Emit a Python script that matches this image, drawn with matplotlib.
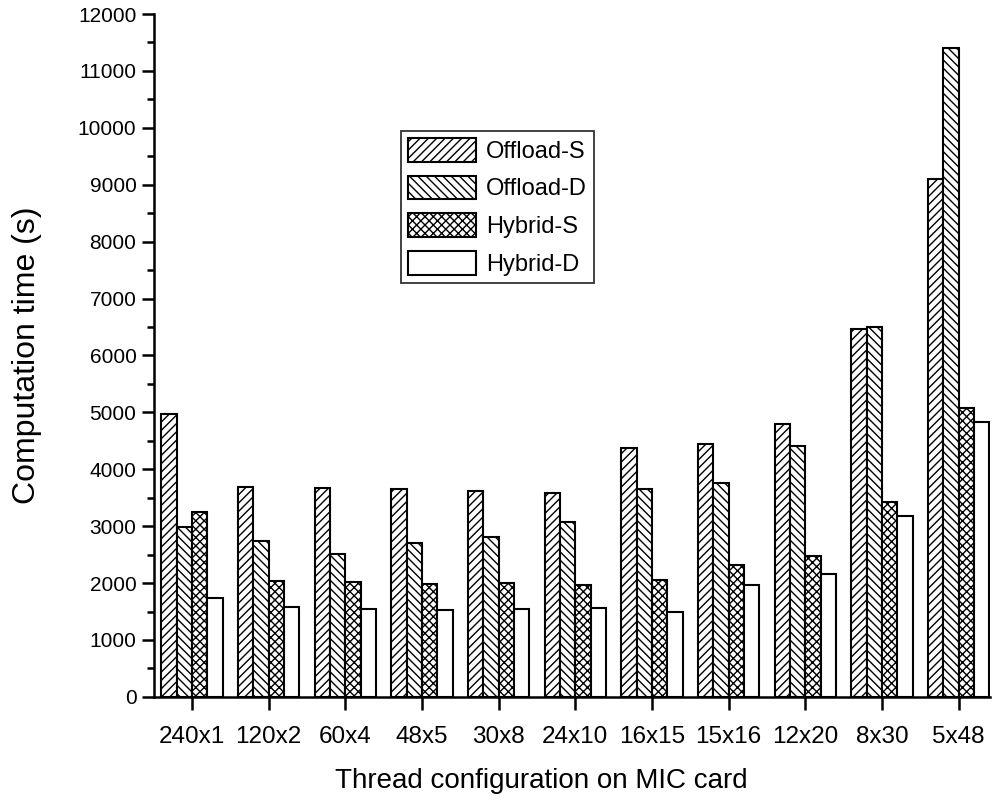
import numpy as np
import matplotlib
matplotlib.use('Agg')
import matplotlib.pyplot as plt
from matplotlib.ticker import MultipleLocator

plt.rcParams['font.family'] = ['Liberation Sans', 'DejaVu Sans']
plt.rcParams['hatch.linewidth'] = 1.0

configs = ['240x1', '120x2', '60x4', '48x5', '30x8', '24x10', '16x15', '15x16', '12x20', '8x30', '5x48']
offload_s = [4970, 3685, 3665, 3645, 3615, 3590, 4365, 4440, 4800, 6460, 9100]
offload_d = [2980, 2745, 2505, 2710, 2805, 3065, 3645, 3760, 4415, 6500, 11400]
hybrid_s = [3255, 2035, 2015, 1990, 2000, 1970, 2055, 2315, 2470, 3420, 5085]
hybrid_d = [1730, 1580, 1550, 1530, 1540, 1570, 1500, 1970, 2160, 3185, 4830]

series = [('Offload-S', offload_s, '////'),
          ('Offload-D', offload_d, '\\\\\\\\'),
          ('Hybrid-S', hybrid_s, 'xxxx'),
          ('Hybrid-D', hybrid_d, '')]

fig = plt.figure(figsize=(9.92, 8.01), dpi=100)
ax = fig.add_axes([0.155, 0.13, 0.843, 0.8525])

x = np.arange(len(configs))
w = 0.2
for i, (name, vals, h) in enumerate(series):
    ax.bar(x + (i - 1.5) * w, vals, w, color='white', edgecolor='black',
           linewidth=1.5, hatch=h, label=name)

ax.set_xlim(-0.5, 10.41)
ax.set_ylim(0, 12000)
ax.set_xticks(x)
ax.set_xticklabels(configs)
ax.yaxis.set_major_locator(MultipleLocator(1000))
ax.yaxis.set_minor_locator(MultipleLocator(500))
ax.spines['top'].set_visible(False)
ax.spines['right'].set_visible(False)
ax.spines['left'].set_linewidth(1.8)
ax.spines['bottom'].set_linewidth(1.8)
ax.tick_params(axis='both', which='major', direction='out', length=9, width=1.8)
ax.tick_params(axis='y', which='major', labelsize=15)
ax.tick_params(axis='x', which='major', labelsize=17.5, pad=12)
ax.tick_params(axis='y', which='minor', direction='out', length=5, width=1.8)

ax.set_xlabel('Thread configuration on MIC card', fontsize=20)
ax.xaxis.set_label_coords(0.464, -0.104)
ax.set_ylabel('Computation time (s)', fontsize=23)
ax.yaxis.set_label_coords(-0.134, 0.5)

leg = ax.legend(loc='upper left', bbox_to_anchor=(0.2955, 0.8287), fontsize=17,
                frameon=True, fancybox=False, edgecolor='black', handlelength=2.9,
                handleheight=1.15, handletextpad=0.4, borderpad=0.3, labelspacing=0.55,
                borderaxespad=0)
leg.get_frame().set_linewidth(1.3)

fig.savefig('out.png', dpi=100)
